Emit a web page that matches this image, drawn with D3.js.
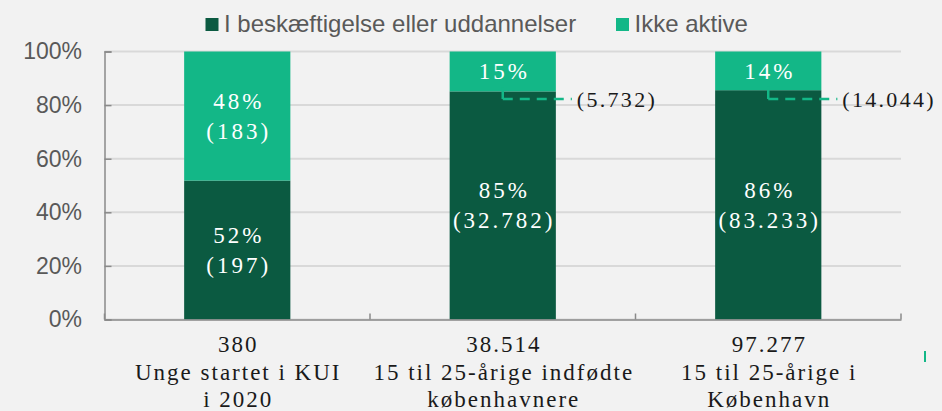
<!DOCTYPE html>
<html><head><meta charset="utf-8">
<script src="https://cdn.jsdelivr.net/npm/d3@7"></script>
<style>
html,body{margin:0;padding:0;background:#f2f2f2;}
svg{display:block;}
</style></head>
<body>
<svg id="chart" width="942" height="411"></svg>
<script>
// ---- data ----
const categories = ["KUI", "Indfødte", "København"];
const categoryLines = [
  ["Unge startet i KUI", "i 2020"],
  ["15 til 25-årige indfødte", "københavnere"],
  ["15 til 25-årige i", "København"]
];
const totals = [380, 38514, 97277];
const activeCounts = [197, 32782, 83233];
const inactiveCounts = [183, 5732, 14044];
const activePct = [52, 85, 86];
const inactivePct = [48, 15, 14];
const seriesNames = ["I beskæftigelse eller uddannelser", "Ikke aktive"];
const yTicks = [0, 0.2, 0.4, 0.6, 0.8, 1.0];

const colors = ["#0b5a41", "#13b787"];
const dk = d3.formatLocale({decimal: ",", thousands: ".", grouping: [3], currency: ["", ""]});
const fmt = dk.format(",d");

const svg = d3.select("#chart");
const W = 942, H = 411;
const margin = {left: 104.5, right: 41, top: 51.5, bottom: 91.5};

const x = d3.scaleBand().domain(categories)
  .range([margin.left, W - margin.right]).paddingInner(0.6).paddingOuter(0.3);
const y = d3.scaleLinear().domain([0, 1]).range([H - margin.bottom, margin.top]);

const rows = categories.map((c, i) => ({
  cat: c,
  active: activeCounts[i] / totals[i],
  inactive: inactiveCounts[i] / totals[i],
  i
}));
const stack = d3.stack().keys(["active", "inactive"]);
const stacked = stack(rows);

// gridlines
svg.append("g").selectAll("line").data(yTicks).join("line")
  .attr("x1", margin.left).attr("x2", W - margin.right)
  .attr("y1", d => y(d)).attr("y2", d => y(d))
  .attr("stroke", "#d9d9d9").attr("stroke-width", 2);

// bars
stacked.forEach((s, si) => {
  svg.append("g").selectAll("rect").data(s).join("rect")
    .attr("x", d => x(d.data.cat))
    .attr("width", x.bandwidth())
    .attr("y", d => y(d[1]))
    .attr("height", d => y(d[0]) - y(d[1]))
    .attr("fill", colors[si]);
});

// axes
const axisColor = "#8a8a8a";
const yAxis = svg.append("g").attr("transform", `translate(${margin.left},0)`)
  .call(d3.axisLeft(y).tickValues(yTicks).tickSize(-7).tickFormat(d3.format(".0%")).tickPadding(30));
yAxis.select(".domain").attr("stroke", axisColor).attr("stroke-width", 1.5);
yAxis.selectAll(".tick line").attr("stroke", axisColor).attr("stroke-width", 1.5);
yAxis.selectAll(".tick text")
  .attr("font-family", "'Liberation Sans', Arial, sans-serif")
  .attr("font-size", 23).attr("fill", "#595959").attr("x", -22.5);

const xAxis = svg.append("g").attr("transform", `translate(0,${y(0)})`)
  .call(d3.axisBottom(x).tickSize(0).tickFormat(""));
xAxis.select(".domain").attr("stroke", axisColor).attr("stroke-width", 1.5);
// category boundary ticks (inward)
const step = x.step();
const bounds = d3.range(categories.length + 1).map(k => margin.left + k * step);
svg.append("g").selectAll("line").data(bounds).join("line")
  .attr("x1", d => d).attr("x2", d => d)
  .attr("y1", y(0)).attr("y2", y(0) - 6)
  .attr("stroke", axisColor).attr("stroke-width", 1.5);

// x labels
const serif = "'Liberation Serif', 'Times New Roman', serif";
const ls = 2;
const xl = svg.append("g");
categories.forEach((c, i) => {
  const cx = x(c) + x.bandwidth() / 2;
  const lines = [fmt(totals[i])].concat(categoryLines[i]);
  lines.forEach((t, li) => {
    xl.append("text").attr("x", cx + ls / 2).attr("y", 352 + li * 27.5)
      .attr("text-anchor", "middle").attr("font-family", serif)
      .attr("font-size", 23).attr("letter-spacing", ls).attr("fill", "#1a1a1a").text(t);
  });
});

// data labels
const lab = svg.append("g").attr("font-family", serif).attr("font-size", 23).attr("letter-spacing", 3);
rows.forEach((r, i) => {
  const cx = x(r.cat) + x.bandwidth() / 2 + 1.5;
  // active segment
  const aMid = (y(0) + y(r.active)) / 2;
  lab.append("text").attr("x", cx).attr("y", aMid - 15 + 8).attr("text-anchor", "middle")
    .attr("fill", "#fff").text(activePct[i] + "%");
  lab.append("text").attr("x", cx).attr("y", aMid + 15 + 8).attr("text-anchor", "middle")
    .attr("fill", "#fff").text("(" + fmt(activeCounts[i]) + ")");
  // inactive segment
  const iMid = (y(r.active) + y(1)) / 2;
  if (r.inactive > 0.3) {
    lab.append("text").attr("x", cx).attr("y", iMid - 15 + 8).attr("text-anchor", "middle")
      .attr("fill", "#fff").text(inactivePct[i] + "%");
    lab.append("text").attr("x", cx).attr("y", iMid + 15 + 8).attr("text-anchor", "middle")
      .attr("fill", "#fff").text("(" + fmt(inactiveCounts[i]) + ")");
  } else {
    lab.append("text").attr("x", cx).attr("y", iMid + 8).attr("text-anchor", "middle")
      .attr("fill", "#fff").text(inactivePct[i] + "%");
    const bx = x(r.cat) + x.bandwidth() / 2;
    const ly = 99;
    const ex = x(r.cat) + x.bandwidth() + 16;
    svg.append("path")
      .attr("d", `M${bx},${y(r.active) - 4}V${ly}`)
      .attr("fill", "none").attr("stroke", colors[1]).attr("stroke-width", 2.5);
    svg.append("path")
      .attr("d", `M${bx},${ly}H${ex}`)
      .attr("fill", "none").attr("stroke", colors[1]).attr("stroke-width", 2.5)
      .attr("stroke-dasharray", "10,7");
    lab.append("text").attr("x", ex + 5).attr("y", ly + 7.5).attr("text-anchor", "start")
      .attr("font-size", 22).attr("letter-spacing", 2.3)
      .attr("fill", "#1a1a1a").text("(" + fmt(inactiveCounts[i]) + ")");
  }
});

// legend
const legend = svg.append("g");
const legX = [205.5, 616];
seriesNames.forEach((n, i) => {
  legend.append("rect").attr("x", legX[i]).attr("y", 18).attr("width", 13).attr("height", 13)
    .attr("fill", colors[i]);
  legend.append("text").attr("x", legX[i] + 18.5).attr("y", 31.5)
    .attr("font-family", "'Liberation Sans', Arial, sans-serif").attr("font-size", 24)
    .attr("fill", "#595959").text(n);
});

// small stray mark at right
svg.append("rect").attr("x", 924).attr("y", 351).attr("width", 2).attr("height", 11).attr("fill", colors[1]);
</script>
</body></html>
